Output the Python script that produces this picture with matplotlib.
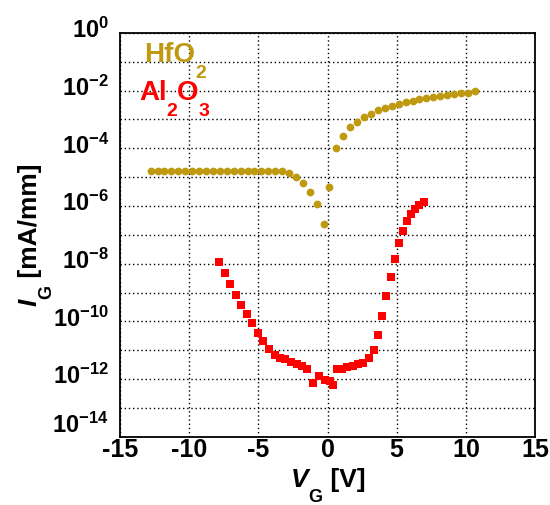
import numpy as np
import matplotlib
matplotlib.use("Agg")
import matplotlib.pyplot as plt
from matplotlib.ticker import FixedLocator, FuncFormatter
from matplotlib.transforms import ScaledTranslation

plt.rcParams["font.family"] = ["Liberation Sans", "DejaVu Sans"]
plt.rcParams["font.weight"] = "bold"
plt.rcParams["mathtext.fontset"] = "custom"
plt.rcParams["mathtext.rm"] = "Liberation Sans:bold"
plt.rcParams["mathtext.bf"] = "Liberation Sans:bold"
plt.rcParams["mathtext.it"] = "Liberation Sans:italic:bold"

HFO2_COLOR = "#BF9A10"
AL2O3_COLOR = "#FF0000"

# HfO2 gate leakage, V_G [V] and log10(I_G [mA/mm])
hfo2_v = [-12.78, -12.28, -11.78, -11.28, -10.78, -10.28, -9.78, -9.28, -8.78,
          -8.28, -7.78, -7.28, -6.78, -6.28, -5.78, -5.28, -4.78, -4.28, -3.78,
          -3.28, -2.78, -2.28, -1.78, -1.28, -0.78, -0.28, 0.14, 0.64, 1.14,
          1.64, 2.14, 2.64, 3.14, 3.64, 4.14, 4.64, 5.14, 5.64, 6.14, 6.64,
          7.14, 7.64, 8.14, 8.64, 9.14, 9.64, 10.14, 10.64]
hfo2_log_i = [-4.79, -4.79, -4.79, -4.79, -4.79, -4.79, -4.79, -4.79, -4.79,
              -4.79, -4.79, -4.79, -4.79, -4.79, -4.79, -4.79, -4.79, -4.79,
              -4.79, -4.79, -4.85, -4.98, -5.21, -5.51, -5.94, -6.62, -5.34,
              -4.00, -3.56, -3.27, -3.09, -2.92, -2.81, -2.69, -2.60, -2.52,
              -2.45, -2.40, -2.36, -2.31, -2.27, -2.23, -2.20, -2.16, -2.13,
              -2.10, -2.07, -2.03]

# Al2O3 gate leakage
al2o3_v = [-7.84, -7.43, -7.05, -6.64, -6.23, -5.84, -5.44, -5.05, -4.64,
           -4.23, -3.82, -3.43, -3.05, -2.64, -2.23, -1.84, -1.46, -1.03,
           -0.60, -0.21, 0.18, 0.37, 0.65, 1.03, 1.43, 1.82, 2.23, 2.59,
           3.02, 3.36, 3.67, 3.96, 4.25, 4.57, 4.86, 5.15, 5.46, 5.77, 6.06,
           6.35, 6.64, 6.96]
al2o3_log_i = [-7.93, -8.32, -8.71, -9.09, -9.42, -9.73, -10.07, -10.39,
               -10.69, -10.97, -11.16, -11.27, -11.32, -11.39, -11.48, -11.55,
               -11.64, -12.14, -11.88, -12.02, -12.08, -12.20, -11.65, -11.65,
               -11.59, -11.53, -11.49, -11.44, -11.28, -10.98, -10.47, -9.83,
               -9.13, -8.45, -7.83, -7.29, -6.86, -6.53, -6.29, -6.12, -5.98,
               -5.86]

x_ticks = [-15, -10, -5, 0, 5, 10, 15]
y_decades = list(range(-14, 1))


def rich_text(fig, x_px, y_px, pieces, rotation=0):
    # pieces: (text, size, style, color, drop_px); subscripts sit lower than mathtext puts them
    r = fig.canvas.get_renderer()
    W, H = fig.bbox.width, fig.bbox.height
    pos = 0.0
    for s, size, style, color, drop in pieces:
        if rotation == 0:
            x, y = x_px + pos, y_px - drop
        else:
            x, y = x_px + drop, y_px + pos
        t = fig.text(x / W, y / H, s, fontsize=size, style=style,
                     fontweight="bold", color=color, rotation=rotation,
                     rotation_mode="anchor", ha="left", va="baseline")
        bb = t.get_window_extent(r)
        pos += bb.width if rotation == 0 else bb.height


fig = plt.figure(figsize=(5.5, 5.05), dpi=100)
ax = fig.add_axes([0.218, 0.135, 0.755, 0.80])

ax.plot(hfo2_v, 10.0 ** np.array(hfo2_log_i), "o", color=HFO2_COLOR,
        markersize=5.6, markeredgewidth=0, zorder=3)
ax.plot(al2o3_v, 10.0 ** np.array(al2o3_log_i), "s", color=AL2O3_COLOR,
        markersize=5.5, markeredgewidth=0, zorder=3)

ax.set_yscale("log")
ax.set_xlim(-15, 15)
ax.set_ylim(1e-14, 1e0)
ax.set_xticks(x_ticks)
ax.set_xticklabels([str(t) for t in x_ticks])
ax.yaxis.set_major_locator(FixedLocator([10.0 ** d for d in y_decades]))
ax.yaxis.set_minor_locator(FixedLocator([]))


def fmt_y(val, pos):
    d = int(round(np.log10(val)))
    if d % 2:
        return ""
    return r"$\mathbf{10^{%d}}$" % d


ax.yaxis.set_major_formatter(FuncFormatter(fmt_y))

ax.grid(True, which="major", color="black", linestyle=(0, (1, 2)), linewidth=1.0)
ax.tick_params(axis="both", which="both", length=0)
ax.tick_params(axis="y", pad=8, labelsize=17)
ax.tick_params(axis="x", pad=1, labelsize=18)
for lbl in ax.get_xticklabels():
    lbl.set_fontweight("bold")
for sp in ax.spines.values():
    sp.set_linewidth(1.3)

# y labels sit a little above their gridlines; lowest one lifted clear of the x labels
fig.canvas.draw()
for tk in ax.yaxis.get_major_ticks():
    d = int(round(np.log10(tk.get_loc())))
    lift = 3.5 if d > -14 else 10
    tk.label1.set_transform(tk.label1.get_transform()
                            + ScaledTranslation(0, lift / 72, fig.dpi_scale_trans))

H_PX = fig.bbox.height

# axis labels
rich_text(fig, 291, H_PX - 487, [
    ("V", 19, "italic", "black", 0),
    ("G", 13, "normal", "black", 15),
    (" [V]", 19, "normal", "black", 0),
])
rich_text(fig, 37, H_PX - 306, [
    ("I", 19, "italic", "black", 0),
    ("G", 13, "normal", "black", 14),
    (" [mA/mm]", 19, "normal", "black", 0),
], rotation=90)

# series labels
rich_text(fig, 144, H_PX - 61.5, [
    ("HfO", 20, "normal", HFO2_COLOR, 0),
    ("2", 14, "normal", HFO2_COLOR, 16),
])
rich_text(fig, 139, H_PX - 100, [
    ("Al", 20, "normal", AL2O3_COLOR, 0),
    ("2", 14, "normal", AL2O3_COLOR, 16),
    ("O", 20, "normal", AL2O3_COLOR, 0),
    ("3", 14, "normal", AL2O3_COLOR, 16),
])

fig.savefig("out.png", dpi=100)
